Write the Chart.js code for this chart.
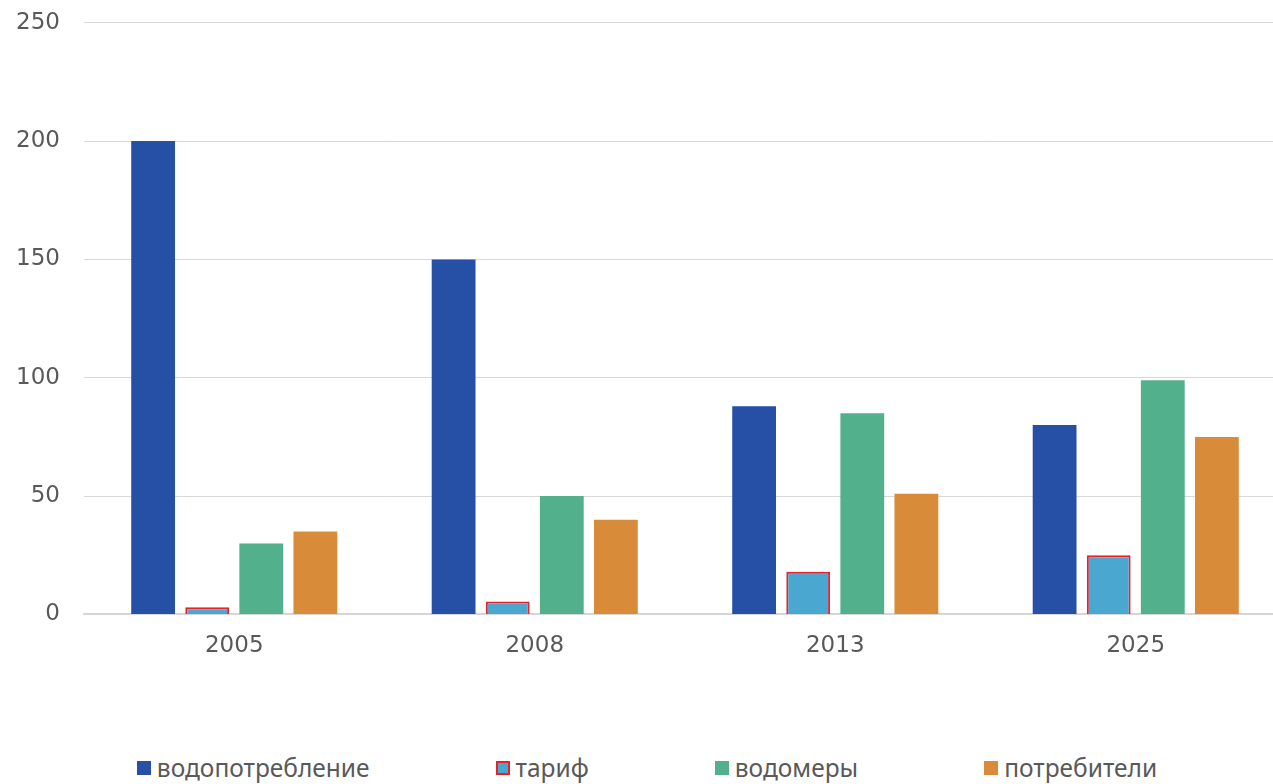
<!DOCTYPE html>
<html>
<head>
<meta charset="utf-8">
<script src="https://cdn.jsdelivr.net/npm/chart.js"></script>
<style>
  html, body { margin: 0; padding: 0; background: #fff; overflow: hidden; }
  #wrap { position: relative; width: 1290px; height: 784px; }
  #mycanvas { position: absolute; left: 0; top: -15px; }
  #legend { position: absolute; left: 2px; top: 751px; width: 1290px; display: flex; justify-content: center;
            font-family: "Noto Sans", sans-serif; font-size: 24.5px; color: #595959; }
  #legend .item { display: flex; align-items: center; margin: 0 63px; }
  #legend .box { width: 14px; height: 14px; margin-right: 6px; box-sizing: border-box; }
</style>
</head>
<body>
<div id="wrap">
  <canvas id="mycanvas" width="1286" height="700"></canvas>
  <div id="legend"></div>
</div>
<script>
var years = ["2005", "2008", "2013", "2025"];
var seriesNames = ["водопотребление", "тариф", "водомеры", "потребители"];
var vodopotreblenie = [200, 150, 88, 80];
var tarif = [3, 5.5, 18, 25];
var vodomery = [30, 50, 85, 99];
var potrebiteli = [35, 40, 51, 75];
var yTicks = [0, 50, 100, 150, 200, 250];

var fills = ["#264fa6", "#4aa8d0", "#52b08c", "#d88b38"];
var borders = ["#264fa6", "#e8202a", "#52b08c", "#d88b38"];
var values = [vodopotreblenie, tarif, vodomery, potrebiteli];

var datasets = [];
for (var i in seriesNames) {
	datasets.push({
		label: seriesNames[i],
		data: values[i],
		backgroundColor: fills[i],
		borderColor: borders[i],
		borderWidth: i == 1 ? 2 : 0,
		categoryPercentage: 0.72,
		barPercentage: 0.81
	});
}

// html legend, spaced like the original
var leg = document.getElementById("legend");
for (var i in seriesNames) {
	var it = document.createElement("div");
	it.className = "item";
	var b = document.createElement("div");
	b.className = "box";
	b.style.background = fills[i];
	if (i == 1) b.style.border = "2px solid " + borders[i];
	var t = document.createElement("span");
	t.textContent = seriesNames[i];
	it.appendChild(b);
	it.appendChild(t);
	leg.appendChild(it);
}

var tickFont = { family: "DejaVu Sans", size: 23 };

var ctx = document.getElementById("mycanvas");
var chart = new Chart(ctx, {
	type: 'bar',
	data: { labels: years, datasets: datasets },
	options: {
		responsive: false,
		animation: false,
		layout: { padding: { left: 16, top: 0, right: 0, bottom: 7 } },
		plugins: { legend: { display: false }, tooltip: { enabled: false } },
		scales: {
			x: {
				grid: { display: false, drawTicks: false },
				border: { display: true, color: "#d6d6d6", width: 2 },
				ticks: { color: "#595959", padding: 18, font: tickFont }
			},
			y: {
				min: 0, max: 250,
				afterBuildTicks: function(s) { s.ticks = yTicks.map(function(v) { return { value: v }; }); },
				afterFit: function(s) { s.width = 68; },
				grid: { color: "#d9d9d9", lineWidth: 1, drawTicks: false },
				border: { display: false },
				ticks: { color: "#595959", padding: 24, font: tickFont }
			}
		}
	}
});
</script>
</body>
</html>
